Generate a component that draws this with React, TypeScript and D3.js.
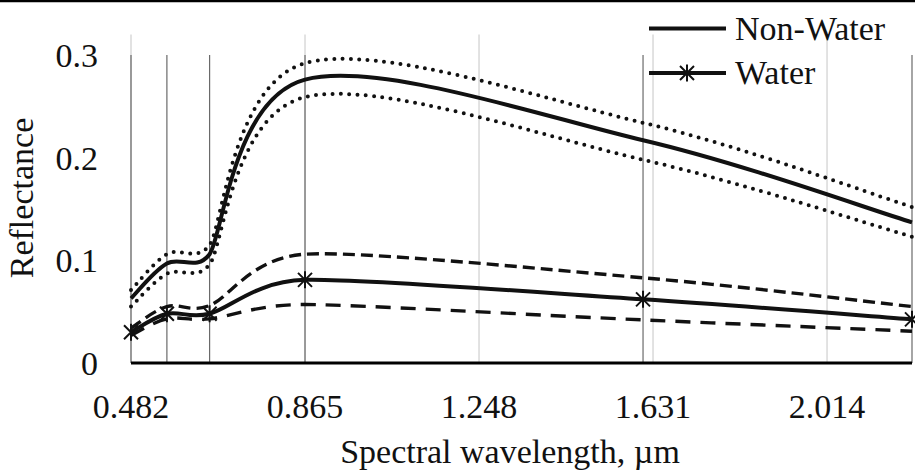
import React from 'react'
import * as d3 from 'd3'

// Landsat band centres (um) and reflectance
const bands = [0.482, 0.561, 0.655, 0.865, 1.609, 2.201]
const xTicks = [0.482, 0.865, 1.248, 1.631, 2.014]
const yTicks = [0, 0.1, 0.2, 0.3]

const nonWater = [0.063, 0.097, 0.106, 0.276, 0.217, 0.137]
const nonWaterUpper = [0.071, 0.106, 0.115, 0.292, 0.234, 0.152]
const nonWaterLower = [0.055, 0.087, 0.096, 0.259, 0.198, 0.123]

const water = [0.030, 0.048, 0.048, 0.081, 0.062, 0.0425]
const waterUpper = [0.034, 0.055, 0.056, 0.106, 0.083, 0.055]
const waterLower = [0.027, 0.043, 0.043, 0.057, 0.042, 0.031]

const bandLineTop = 0.3

const W = 915
const H = 471
const margin = { left: 131, right: 3, top: 0, bottom: 108 }
const font = '"Liberation Serif", "Times New Roman", serif'

// smoothing like the spreadsheet's: catmull-rom tangents, capped at half the neighbouring segment
function smoothCurve(context: any) {
  let pts: [number, number][] = []
  const dist = (a: number[], b: number[]) => Math.hypot(b[0] - a[0], b[1] - a[1])
  const ctrl = (prev: number[], cur: number[], next: number[], dir: number) => {
    const tx = next[0] - prev[0], ty = next[1] - prev[1]
    const len = Math.hypot(tx, ty) || 1
    const segs: number[] = []
    if (prev !== cur) segs.push(dist(prev, cur))
    if (next !== cur) segs.push(dist(cur, next))
    const cap = Math.min(...segs) / 2
    let f = 1 / 6
    if (len * f > cap) f = cap / len
    return [cur[0] + dir * tx * f, cur[1] + dir * ty * f]
  }
  return {
    areaStart() {}, areaEnd() {},
    lineStart() { pts = [] },
    point(x: number, y: number) { pts.push([x, y]) },
    lineEnd() {
      const n = pts.length
      if (!n) return
      context.moveTo(pts[0][0], pts[0][1])
      for (let i = 0; i < n - 1; i++) {
        const p0 = pts[Math.max(i - 1, 0)], p1 = pts[i], p2 = pts[i + 1], p3 = pts[Math.min(i + 2, n - 1)]
        const c1 = ctrl(p0, p1, p2, 1)
        const c2 = ctrl(p1, p2, p3, -1)
        context.bezierCurveTo(c1[0], c1[1], c2[0], c2[1], p2[0], p2[1])
      }
    },
  }
}

// star marker: X plus a vertical stroke
const star = (cx: number, cy: number, r = 7) => {
  const p = d3.path()
  p.moveTo(cx - r, cy - r); p.lineTo(cx + r, cy + r)
  p.moveTo(cx - r, cy + r); p.lineTo(cx + r, cy - r)
  p.moveTo(cx, cy - r - 1.5); p.lineTo(cx, cy + r + 1.5)
  return p.toString()
}

export default function App() {
  const x = d3.scaleLinear().domain([0.482, 2.201]).range([margin.left, W - margin.right])
  const y = d3.scaleLinear().domain([0, 0.32]).range([363, 34.5])

  const line = d3.line<number>()
    .x((d, i) => x(bands[i]))
    .y(d => y(d))
    .curve(smoothCurve as any)

  const series = [
    { vals: nonWaterUpper, dash: '0 8.3', width: 4, cap: 'round' },
    { vals: nonWaterLower, dash: '0 8.3', width: 4, cap: 'round' },
    { vals: waterUpper, dash: '12 6', width: 3.4, cap: 'butt' },
    { vals: waterLower, dash: '15 10', width: 3.4, cap: 'butt' },
    { vals: nonWater, dash: null, width: 4, cap: 'butt' },
    { vals: water, dash: null, width: 4, cap: 'butt' },
  ]

  return (
    <svg width={W} height={H} style={{ position: 'absolute', left: 0, top: 0, background: '#fff' }}>
      <line x1={0} x2={W} y1={1} y2={1} stroke="#000" strokeWidth={2.5} />

      {/* major gridlines */}
      {xTicks.map(t => (
        <line key={'g' + t} x1={x(t)} x2={x(t)} y1={y(0.32)} y2={y(0)} stroke="#d9d9d9" strokeWidth={1.5} />
      ))}
      {/* band drop lines */}
      {bands.map(b => (
        <line key={'b' + b} x1={x(b)} x2={x(b)} y1={y(bandLineTop)} y2={y(0)} stroke="#6a6a6a" strokeWidth={1.2} />
      ))}

      {series.map((s, i) => (
        <path key={i} d={line(s.vals) || ''} fill="none" stroke="#111"
          strokeWidth={s.width} strokeDasharray={s.dash || undefined} strokeLinecap={s.cap as any} />
      ))}

      {water.map((v, i) => (
        <path key={'m' + i} d={star(x(bands[i]), y(v))} stroke="#111" strokeWidth={2} fill="none" />
      ))}

      <line x1={x(0.482)} x2={W - margin.right} y1={y(0)} y2={y(0)} stroke="#000" strokeWidth={3} />

      <g fontFamily={font} fontSize={34} fill="#111">
        {yTicks.map(t => (
          <text key={'y' + t} x={98} y={y(t)} dy="0.35em" textAnchor="end">{d3.format('')(t)}</text>
        ))}
        {xTicks.map(t => (
          <text key={'x' + t} x={x(t)} y={418} textAnchor="middle">{d3.format('.3f')(t)}</text>
        ))}
        <text x={510} y={463} textAnchor="middle">Spectral wavelength, µm</text>
        <text transform={`translate(33,${198}) rotate(-90)`} textAnchor="middle">Reflectance</text>

        {/* legend */}
        <line x1={649} x2={726} y1={28.5} y2={28.5} stroke="#111" strokeWidth={4} />
        <text x={735} y={40}>Non-Water</text>
        <line x1={649} x2={726} y1={73} y2={73} stroke="#111" strokeWidth={4} />
        <path d={star(687, 73)} stroke="#111" strokeWidth={2} fill="none" />
        <text x={735} y={84}>Water</text>
      </g>
    </svg>
  )
}
